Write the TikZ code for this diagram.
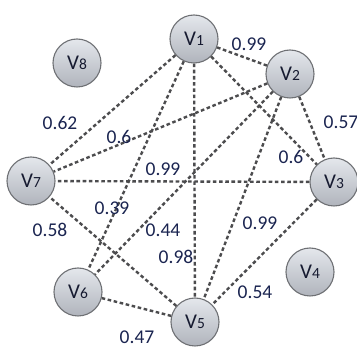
\documentclass[tikz,border=0pt]{standalone}
\usepackage{fontspec}
\setmainfont{Carlito}
\definecolor{vtext}{RGB}{22,26,48}
\definecolor{wtext}{RGB}{26,36,80}
\definecolor{rim}{RGB}{110,112,116}
\definecolor{edgegray}{RGB}{76,76,78}
\definecolor{filltop}{RGB}{228,231,236}
\definecolor{fillbot}{RGB}{176,180,188}
\newcommand{\vlab}[1]{\fontsize{21}{21}\selectfont V\fontsize{15.5}{15.5}\selectfont #1}
\begin{document}
\begin{tikzpicture}[x=1pt,y=-1pt,
  vertex/.style={circle, draw=rim, line width=1.1pt, minimum size=48pt, inner sep=0pt,
    top color=filltop, bottom color=fillbot, text=vtext},
  link/.style={draw=edgegray, line width=2.4pt, dash pattern=on 3.6pt off 2.6pt},
  weight/.style={text=wtext, font=\fontsize{19.5}{19.5}\selectfont, inner sep=0pt}]
\useasboundingbox (0,0) rectangle (357,347);

% vertices
\node[vertex] (v1) at (194,39)  {\vlab{1}};
\node[vertex] (v2) at (290,74)  {\vlab{2}};
\node[vertex] (v3) at (334,182) {\vlab{3}};
\node[vertex] (v4) at (310,272) {\vlab{4}};
\node[vertex] (v5) at (195,322) {\vlab{5}};
\node[vertex] (v6) at (78,292)  {\vlab{6}};
\node[vertex] (v7) at (31,181)  {\vlab{7}};
\node[vertex] (v8) at (77,63)   {\vlab{8}};

% weighted links
\draw[link] (v1) -- (v2);
\draw[link] (v1) -- (v3);
\draw[link] (v1) -- (v5);
\draw[link] (v1) -- (v6);
\draw[link] (v1) -- (v7);
\draw[link] (v2) -- (v3);
\draw[link] (v2) -- (v5);
\draw[link] (v2) -- (v6);
\draw[link] (v2) -- (v7);
\draw[link] (v3) -- (v5);
\draw[link] (v3) -- (v7);
\draw[link] (v5) -- (v6);
\draw[link] (v5) -- (v7);

% weights
\node[weight] (w12) at (249,44)  {0.99};
\node[weight] (w13) at (291,157) {0.6};
\node[weight] (w23) at (341,122) {0.57};
\node[weight] (w17) at (60,123)  {0.62};
\node[weight] (w27) at (119,137) {0.6};
\node[weight] (w37) at (163,169) {0.99};
\node[weight] (w16) at (112,208) {0.39};
\node[weight] (w57) at (50,230)  {0.58};
\node[weight] (w26) at (163,230) {0.44};
\node[weight] (w15) at (176,257) {0.98};
\node[weight] (w25) at (260,223) {0.99};
\node[weight] (w35) at (255,292) {0.54};
\node[weight] (w56) at (137,337) {0.47};
\end{tikzpicture}
\end{document}
